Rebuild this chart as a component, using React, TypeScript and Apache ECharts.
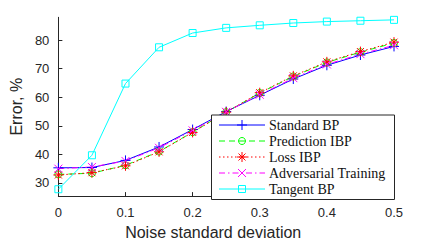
import React, { useEffect, useRef } from "react";
import * as echarts from "echarts";

const noiseLevels = [0, 0.05, 0.1, 0.15, 0.2, 0.25, 0.3, 0.35, 0.4, 0.45, 0.5];
const standardBP = [35.3, 35.4, 37.9, 42.6, 48.7, 55.0, 60.7, 66.4, 71.2, 74.8, 77.8];
const predictionIBP = [33.0, 33.4, 36.2, 41.0, 47.8, 54.8, 61.5, 67.3, 72.2, 75.8, 79.0];
const lossIBP = [32.8, 33.6, 36.0, 40.9, 47.7, 54.8, 61.6, 67.5, 72.4, 76.0, 79.3];
const adversarialTraining = [35.0, 35.6, 37.7, 42.3, 48.4, 54.9, 60.9, 66.7, 71.5, 75.1, 78.2];
const tangentBP = [27.8, 39.7, 64.8, 77.5, 82.5, 84.3, 85.2, 86.0, 86.5, 86.8, 87.1];

const xTicks = [0, 0.1, 0.2, 0.3, 0.4, 0.5];
const yTicks = [30, 40, 50, 60, 70, 80];
const seriesNames = ["Standard BP", "Prediction IBP", "Loss IBP", "Adversarial Training", "Tangent BP"];

const AXIS = "#262626";

type Marker = "plus" | "circle" | "star" | "cross" | "square";

const seriesDefs: {
  name: string;
  values: number[];
  color: string;
  dash: number[] | "solid";
  marker: Marker;
}[] = [
  { name: seriesNames[0], values: standardBP, color: "#0000ff", dash: "solid", marker: "plus" },
  { name: seriesNames[1], values: predictionIBP, color: "#00ff00", dash: [6, 4], marker: "circle" },
  { name: seriesNames[2], values: lossIBP, color: "#ff0000", dash: [1.5, 2.5], marker: "star" },
  { name: seriesNames[3], values: adversarialTraining, color: "#ff00ff", dash: [6, 3, 1.5, 3], marker: "cross" },
  { name: seriesNames[4], values: tangentBP, color: "#00ffff", dash: "solid", marker: "square" },
];

const symbolFor = (m: Marker): { symbol: string; size: number } => {
  switch (m) {
    case "plus":
      return { symbol: "path://M0 5L10 5M5 0L5 10", size: 10 };
    case "star":
      return { symbol: "path://M0 5L10 5M5 0L5 10M1.5 1.5L8.5 8.5M1.5 8.5L8.5 1.5", size: 10 };
    case "cross":
      return { symbol: "path://M0 0L10 10M0 10L10 0", size: 8 };
    case "circle":
      return { symbol: "circle", size: 7 };
    default:
      return { symbol: "rect", size: 7 };
  }
};

const Z = 100;

const legendMarker = (m: Marker, cx: number, cy: number, color: string): any[] => {
  const st = { stroke: color, lineWidth: 1, fill: "none" };
  const ln = (x1: number, y1: number, x2: number, y2: number) => ({
    type: "line",
    z: Z + 2,
    shape: { x1, y1, x2, y2 },
    style: st,
  });
  const s = 5;
  const d = 3.5;
  switch (m) {
    case "plus":
      return [ln(cx - s, cy, cx + s, cy), ln(cx, cy - s, cx, cy + s)];
    case "star":
      return [
        ln(cx - s, cy, cx + s, cy),
        ln(cx, cy - s, cx, cy + s),
        ln(cx - d, cy - d, cx + d, cy + d),
        ln(cx - d, cy + d, cx + d, cy - d),
      ];
    case "cross":
      return [ln(cx - 4, cy - 4, cx + 4, cy + 4), ln(cx - 4, cy + 4, cx + 4, cy - 4)];
    case "circle":
      return [{ type: "circle", z: Z + 2, shape: { cx, cy, r: 3.5 }, style: st }];
    default:
      return [
        { type: "rect", z: Z + 2, shape: { x: cx - 3.5, y: cy - 3.5, width: 7, height: 7 }, style: st },
      ];
  }
};

export default function App() {
  const ref = useRef<HTMLDivElement>(null);
  useEffect(() => {
    document.body.style.margin = "0";
    if (!ref.current) return;
    const chart = echarts.init(ref.current, undefined, { renderer: "svg" });

    const legendX = 211.5;
    const legendY = 115;
    const legendW = 183;
    const legendH = 84.5;
    const rowY = [125, 141, 157, 173, 189];
    const legendEls: any[] = [
      {
        type: "rect",
        z: Z,
        shape: { x: legendX, y: legendY, width: legendW, height: legendH },
        style: { fill: "#ffffff", stroke: AXIS, lineWidth: 1 },
      },
    ];
    seriesDefs.forEach((s, i) => {
      const y = rowY[i];
      legendEls.push({
        type: "line",
        z: Z + 1,
        shape: { x1: 219, y1: y, x2: 265, y2: y },
        style: {
          stroke: s.color,
          lineWidth: 1,
          lineDash: s.dash === "solid" ? null : s.dash,
        },
      });
      legendEls.push(...legendMarker(s.marker, 242, y, s.color));
      legendEls.push({
        type: "text",
        z: Z + 1,
        x: 269,
        y: y + 0.5,
        style: {
          text: s.name,
          fill: "#111111",
          fontFamily: "Liberation Serif",
          fontSize: 14,
          fontWeight: "normal",
          verticalAlign: "middle",
          align: "left",
        },
      });
    });

    chart.setOption({
      animation: false,
      backgroundColor: "#ffffff",
      grid: { left: 55.7, top: 17.3, width: 338.3, height: 182, containLabel: false },
      xAxis: {
        type: "value",
        min: 0,
        max: 0.5,
        interval: 0.1,
        name: "Noise standard deviation",
        nameLocation: "middle",
        nameGap: 27,
        nameTextStyle: {
          fontSize: 16,
          color: AXIS,
          fontFamily: "Liberation Sans",
          padding: [0, 26, 0, 0],
        },
        axisLine: { show: true, lineStyle: { color: AXIS, width: 1 } },
        axisTick: { show: true, inside: true, length: 4, lineStyle: { color: AXIS }, customValues: xTicks },
        axisLabel: {
          customValues: xTicks,
          fontSize: 13,
          color: AXIS,
          fontFamily: "Liberation Sans",
          margin: 10,
          formatter: (v: number) => (v === 0 ? "0" : String(Number(v.toFixed(1)))),
        },
        splitLine: { show: false },
      },
      yAxis: {
        type: "value",
        min: 25.4,
        max: 88,
        name: "Error, %",
        nameLocation: "middle",
        nameGap: 31,
        nameTextStyle: { fontSize: 16, color: AXIS, fontFamily: "Liberation Sans" },
        axisLine: { show: true, lineStyle: { color: AXIS, width: 1 } },
        axisTick: { show: true, inside: true, length: 4, lineStyle: { color: AXIS }, customValues: yTicks },
        axisLabel: {
          customValues: yTicks,
          fontSize: 13,
          color: AXIS,
          fontFamily: "Liberation Sans",
          margin: 9,
        },
        splitLine: { show: false },
      },
      series: seriesDefs.map((s) => {
        const sym = symbolFor(s.marker);
        return {
          type: "line",
          name: s.name,
          z: 2,
          data: noiseLevels.map((x, i) => [x, s.values[i]]),
          symbol: sym.symbol,
          symbolSize: sym.size,
          showSymbol: true,
          showAllSymbol: true,
          lineStyle: { color: s.color, width: 1, type: s.dash },
          itemStyle: { color: "none", borderColor: s.color, borderWidth: 1 },
          emphasis: { disabled: true },
        };
      }),
      graphic: legendEls,
    });
    return () => chart.dispose();
  }, []);
  return <div ref={ref} style={{ width: 436, height: 245 }} />;
}
